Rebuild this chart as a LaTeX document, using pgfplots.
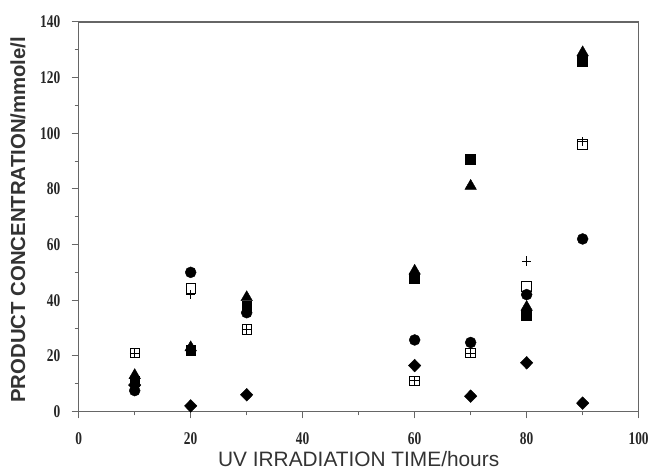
\documentclass[border=0pt]{standalone}
\usepackage{pgfplots}
\pgfplotsset{compat=1.18}
\usepackage{fontspec}
\setmainfont{Liberation Serif}
\newfontfamily\sansf{Liberation Sans}
\begin{document}
\begin{tikzpicture}
\begin{axis}[
  scale only axis,
  width=562bp, height=391bp,
  xmin=0, xmax=100, ymin=0, ymax=140,
  xtick={0,20,...,100}, ytick={0,20,...,140},
  minor xtick={10,30,50,70,90}, minor ytick={10,30,...,130},
  tick align=outside,
  xtick pos=bottom, ytick pos=left,
  major tick length=7bp, minor tick length=4bp,
  axis line style={draw=black!60, line width=1.2pt},
  every tick/.style={draw=black!60, line width=1pt},
  /pgf/number format/assume math mode=true,
  ticklabel style={font=\fontsize{18}{18}\selectfont\bfseries, text=black!85},
  xticklabel={\scalebox{0.75}[1]{\pgfmathprintnumber{\tick}}},
  yticklabel={\scalebox{0.75}[1]{\pgfmathprintnumber{\tick}}},
  xticklabel style={anchor=center, at={(axis cs:\tick,0)}, yshift=-20bp},
  yticklabel style={anchor=east, xshift=-8bp},
  every axis x label/.style={at={(axis description cs:0.5,0)}, anchor=center, yshift=-48bp},
  every axis y label/.style={at={(axis description cs:0,0.5)}, anchor=center, xshift=-61bp, yshift=-3bp, rotate=90},
  xlabel={\sansf\fontsize{21}{21}\selectfont UV IRRADIATION TIME/hours},
  ylabel={\sansf\bfseries\fontsize{20.5}{20.5}\selectfont PRODUCT CONCENTRATION/mmole/l},
  xlabel style={text=black!80},
  ylabel style={text=black!80},
  only marks,
]
% filled square
\addplot[mark=square*, mark size=5bp, black] coordinates {(10,11) (20,22) (30,38) (60,48) (70,90.5) (80,34.5) (90,126)};
% filled triangle
\addplot[mark=triangle*, mark size=6.7bp, black] coordinates {(10,13) (20,23) (30,41) (60,50.5) (70,81) (80,37.5) (90,129)};
% filled circle
\addplot[mark=*, mark size=5.5bp, black] coordinates {(10,7.5) (20,50) (30,35.5) (60,25.7) (70,24.8) (80,42) (90,62)};
% filled diamond
\addplot[mark=diamond*, mark size=6.4bp, mark options={xscale=1.3}, black] coordinates {(10,9.5) (20,2) (30,6) (60,16.5) (70,5.5) (80,17.5) (90,3)};
% open square
\addplot[mark=square, mark size=4.8bp, mark options={line width=0.8pt}, black] coordinates {(10,21) (20,44.3) (30,29.5) (60,11) (70,21) (80,45) (90,96)};
% plus
\addplot[mark=+, mark size=4.8bp, mark options={line width=0.8pt}, black] coordinates {(10,21) (20,42) (30,29.5) (60,11) (70,21) (80,54) (90,97)};
\end{axis}
\path ([xshift=-79bp,yshift=22bp]current axis.north west) rectangle ([xshift=11bp,yshift=-62bp]current axis.south east);
\end{tikzpicture}
\end{document}
